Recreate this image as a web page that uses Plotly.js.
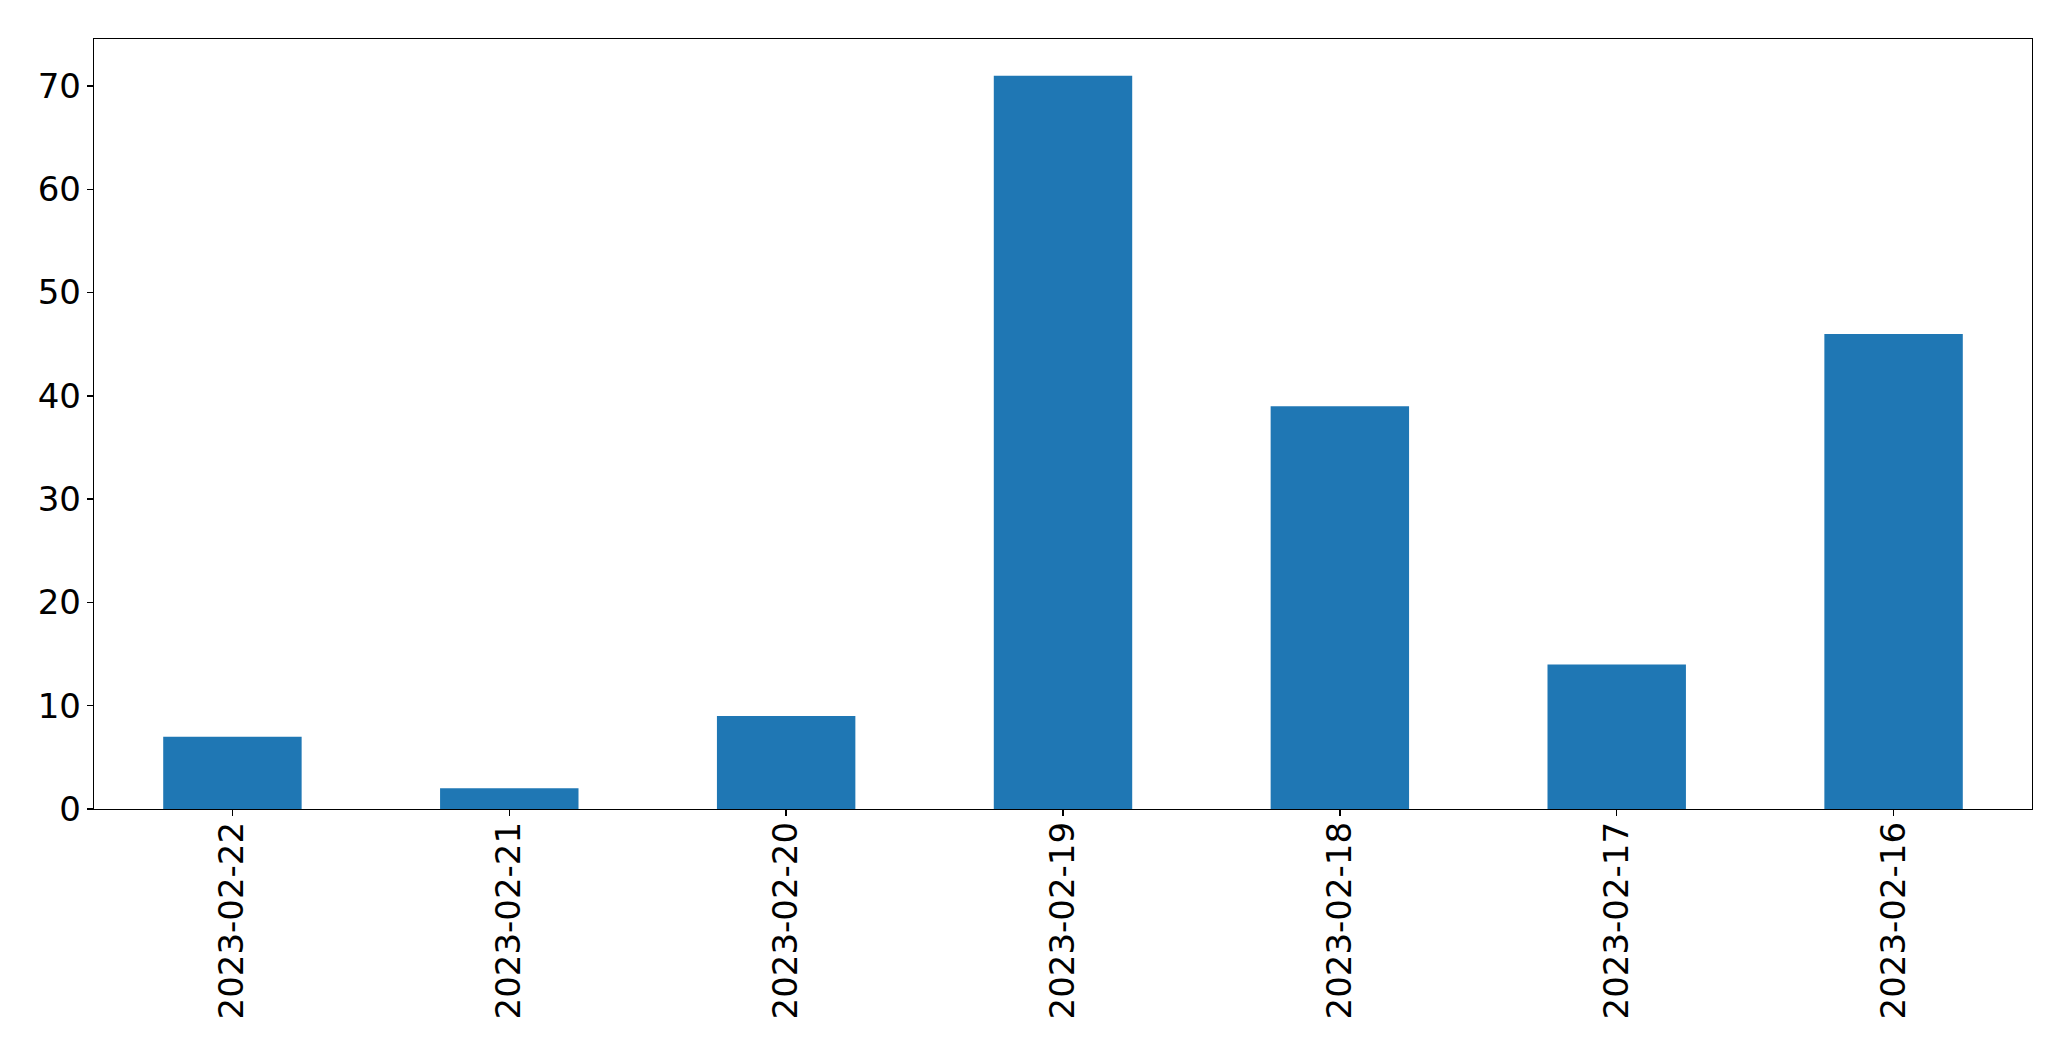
<!DOCTYPE html>
<html>
<head>
<meta charset="utf-8">
<script src="https://cdn.plot.ly/plotly-3.0.1.min.js"></script>
<style>html,body{margin:0;padding:0;background:#fff;}#chart{width:2071px;height:1061px;}</style>
</head>
<body>
<div id="chart"></div>
<script>
const dates = ["2023-02-22","2023-02-21","2023-02-20","2023-02-19","2023-02-18","2023-02-17","2023-02-16"];
const counts = [7, 2, 9, 71, 39, 14, 46];
const yTicks = [0, 10, 20, 30, 40, 50, 60, 70];

const trace = {
  type: "bar",
  x: dates,
  y: counts,
  marker: {color: "#1f77b4", line: {width: 0}},
  hoverinfo: "x+y"
};

const axisCommon = {
  showline: true, mirror: true, linecolor: "#000", linewidth: 1.3,
  ticks: "outside", ticklen: 6, tickwidth: 1.3, tickcolor: "#000",
  showgrid: false, zeroline: false,
  tickfont: {family: "DejaVu Sans", size: 34, color: "#000"}
};

const layout = {
  width: 2071, height: 1061,
  margin: {l: 94, r: 39, t: 39, b: 252, pad: 0},
  paper_bgcolor: "#fff", plot_bgcolor: "#fff",
  showlegend: false,
  bargap: 0.5,
  xaxis: Object.assign({}, axisCommon, {
    type: "category", range: [-0.5, 6.5], tickangle: -90, ticklabelstandoff: -8
  }),
  yaxis: Object.assign({}, axisCommon, {
    range: [0, 74.55], tickvals: yTicks, ticktext: yTicks.map(String), ticklabelstandoff: -1
  })
};

Plotly.newPlot("chart", [trace], layout, {displayModeBar: false, staticPlot: true});
</script>
</body>
</html>
